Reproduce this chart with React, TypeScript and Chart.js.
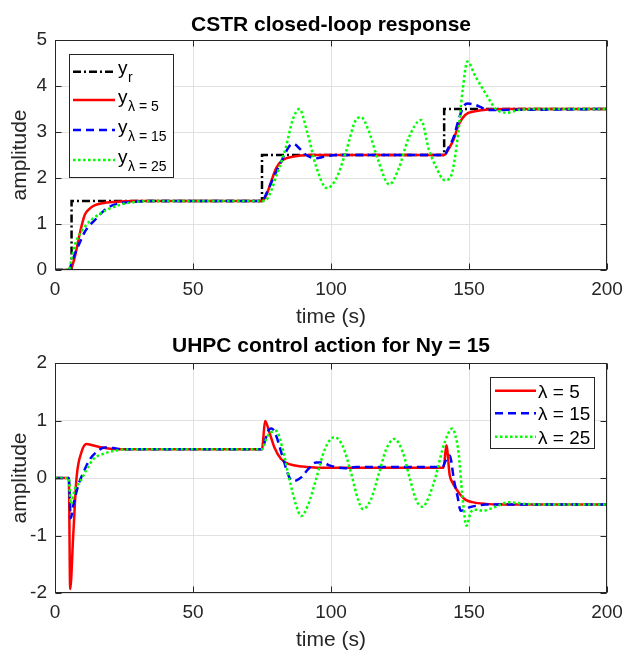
import React, { useEffect, useRef } from "react";
import { Chart, registerables } from "chart.js";

Chart.register(...registerables);

const FONT = "'Liberation Sans', Arial, Helvetica, sans-serif";

// ---------- axis ticks ----------
const xTicks = [0, 50, 100, 150, 200];
const yTicksTop = [0, 1, 2, 3, 4, 5];
const yTicksBottom = [-2, -1, 0, 1, 2];

// ---------- top chart: CSTR closed-loop response ----------
const timeRef = [0, 6, 6, 75, 75, 141, 141, 200];
const refY = [0, 0, 1.5, 1.5, 2.5, 2.5, 3.5, 3.5];

const timeY5 = [0, 5, 6, 7.2, 9, 10.8, 12.5, 14.5, 17, 21.7, 29, 75, 76.5, 77.7, 80.1, 82.5, 86, 92, 100, 141, 142.5, 144.4, 146.2, 148.6, 152.2, 157, 165, 200];
const y5 = [0, 0, 0.05, 0.29, 0.8, 1.2, 1.33, 1.41, 1.45, 1.48, 1.5, 1.5, 1.62, 1.81, 2.21, 2.39, 2.46, 2.5, 2.5, 2.5, 2.62, 2.83, 3.15, 3.37, 3.45, 3.49, 3.5, 3.5];

const timeY15 = [0, 5, 6, 7.2, 9, 10.8, 12.5, 14.5, 16.5, 18.7, 21.5, 24.7, 30, 36, 75, 76.5, 78.5, 80.5, 82, 83.5, 85, 86.5, 88.6, 91, 94.6, 98, 102, 141, 142.5, 144.4, 146.2, 148, 149.5, 152.2, 155, 157, 200];
const y15 = [0, 0, 0.15, 0.35, 0.6, 0.83, 0.97, 1.09, 1.22, 1.34, 1.42, 1.46, 1.49, 1.5, 1.5, 1.65, 1.92, 2.18, 2.36, 2.55, 2.7, 2.74, 2.64, 2.5, 2.43, 2.47, 2.5, 2.5, 2.65, 2.88, 3.26, 3.55, 3.62, 3.59, 3.52, 3.48, 3.5];

const timeY25 = [0, 5, 6, 7.2, 9, 10.8, 13, 15.7, 18.5, 21.7, 25, 29, 36, 75, 76.5, 78.5, 80.1, 82, 83.7, 86.1, 88.5, 91.5, 94.6, 98.5, 101.8, 105.4, 109, 110.9, 113.5, 117, 121.1, 124.5, 128, 132.6, 135.5, 137.9, 141.2, 143.4, 145.8, 147.7, 149.4, 152.4, 156, 159.6, 163.8, 168, 174, 200];
const y25 = [0, 0, 0.25, 0.55, 0.78, 0.94, 1.08, 1.2, 1.3, 1.38, 1.44, 1.48, 1.5, 1.5, 1.52, 1.75, 2.03, 2.35, 2.68, 3.26, 3.5, 2.97, 2.25, 1.78, 1.98, 2.57, 3.26, 3.32, 3.05, 2.4, 1.86, 2.2, 2.85, 3.26, 2.61, 2.26, 1.95, 2.03, 2.83, 3.91, 4.53, 4.2, 3.84, 3.51, 3.42, 3.48, 3.5, 3.5];

// ---------- bottom chart: UHPC control action ----------
const timeU5 = [0, 5, 5.5, 6.6, 7.8, 9.6, 11.4, 13.5, 16, 20, 25, 75, 75.3, 76.1, 77.7, 79.5, 81.9, 84.9, 89.7, 95, 140.8, 141.8, 143, 144, 145.5, 147, 148.8, 151.2, 156, 162, 200];
const u5 = [0, 0, -1.93, -1.0, 0.0, 0.45, 0.59, 0.57, 0.54, 0.51, 0.5, 0.5, 0.6, 0.99, 0.79, 0.53, 0.33, 0.24, 0.2, 0.18, 0.18, 0.57, 0.05, -0.08, -0.2, -0.3, -0.38, -0.42, -0.45, -0.46, -0.46];

const timeU15 = [0, 5, 5.7, 6.6, 8.4, 10.5, 12.7, 15, 18, 21, 25, 75, 75.5, 77.7, 78.5, 80.1, 82.5, 84.9, 86.1, 87.5, 89.2, 91.5, 94.6, 97, 99.4, 102.5, 105.4, 109, 113, 140.4, 141.5, 143, 144.6, 145.8, 147, 148.5, 150.1, 153, 156.1, 200];
const u15 = [0, 0, -0.7, -0.48, -0.13, 0.12, 0.33, 0.45, 0.53, 0.52, 0.5, 0.5, 0.56, 0.85, 0.86, 0.74, 0.36, 0.01, -0.05, -0.04, 0.01, 0.14, 0.27, 0.27, 0.22, 0.18, 0.17, 0.19, 0.19, 0.19, 0.3, 0.39, -0.05, -0.31, -0.57, -0.55, -0.51, -0.48, -0.46, -0.46];

const timeU25 = [0, 5, 5.7, 7.2, 9, 11.5, 13.9, 17.5, 22.3, 28, 75, 75.5, 77.1, 78.5, 80.1, 82.5, 84.9, 87.4, 89.2, 91.6, 94.6, 97.6, 101.2, 104.2, 107.2, 109.7, 111.5, 114.4, 117.5, 120, 122.9, 126, 128.5, 131, 133.2, 135.6, 138, 140.4, 142.5, 144, 145, 146.2, 147.6, 149.1, 150.6, 152.5, 155, 159.6, 164.5, 170, 178, 200];
const u25 = [0, 0, -0.45, -0.19, -0.07, 0.15, 0.33, 0.42, 0.48, 0.5, 0.5, 0.55, 0.74, 0.8, 0.82, 0.5, -0.02, -0.48, -0.66, -0.48, -0.02, 0.48, 0.71, 0.56, 0.1, -0.36, -0.54, -0.38, 0.1, 0.5, 0.68, 0.45, 0.0, -0.4, -0.5, -0.31, 0.04, 0.5, 0.78, 0.86, 0.75, 0.45, -0.31, -0.83, -0.6, -0.55, -0.57, -0.5, -0.42, -0.45, -0.46, -0.46];

// ---------- labels ----------
const topTitle = "CSTR closed-loop response";
const bottomTitle = "UHPC control action for Ny = 15";
const xLabel = "time (s)";
const yLabel = "amplitude";
const topLegend = [
  { main: "y", sub: "r" },
  { main: "y", sub: "λ = 5" },
  { main: "y", sub: "λ = 15" },
  { main: "y", sub: "λ = 25" },
];
const bottomLegend = [
  { main: "λ = 5", sub: "" },
  { main: "λ = 15", sub: "" },
  { main: "λ = 25", sub: "" },
];

const RED = "#ff0000";
const BLUE = "#0000ff";
const GREEN = "#00ff00";
const BLACK = "#000000";
const DASH_REF = [8, 3, 2, 3];
const DASH_BLUE = [8, 5];
const DASH_GREEN = [2.5, 2.5];

function pts(t: number[], y: number[]) {
  return t.map((x, i) => ({ x, y: y[i] }));
}

const boxPlugin = {
  id: "matlabBox",
  afterDraw(chart: any, _args: any, opts: any) {
    const { ctx, chartArea } = chart;
    const { left, right, top, bottom } = chartArea;
    const xs = chart.scales.x;
    const ys = chart.scales.y;
    ctx.save();
    ctx.strokeStyle = "#262626";
    ctx.lineWidth = 1;
    ctx.setLineDash([]);
    const L = Math.round(left) + 0.5;
    const R = Math.round(right) - 0.5;
    const T = Math.round(top) + 0.5;
    const B = Math.round(bottom) - 0.5;
    ctx.strokeRect(L, T, R - L, B - T);
    const tl = 6;
    ctx.beginPath();
    xs.ticks.forEach((t: any) => {
      const px = Math.round(xs.getPixelForValue(t.value)) + 0.5;
      ctx.moveTo(px, B);
      ctx.lineTo(px, B - tl);
      ctx.moveTo(px, T);
      ctx.lineTo(px, T + tl);
    });
    ys.ticks.forEach((t: any) => {
      const py = Math.round(ys.getPixelForValue(t.value)) + 0.5;
      ctx.moveTo(L, py);
      ctx.lineTo(L + tl, py);
      ctx.moveTo(R, py);
      ctx.lineTo(R - tl, py);
    });
    ctx.stroke();

    const lg = opts && opts.legend;
    if (lg) {
      ctx.fillStyle = "#ffffff";
      ctx.fillRect(lg.x, lg.y, lg.w, lg.h);
      ctx.strokeStyle = "#262626";
      ctx.lineWidth = 1;
      ctx.strokeRect(lg.x + 0.5, lg.y + 0.5, lg.w, lg.h);
      lg.rows.forEach((r: any) => {
        ctx.save();
        ctx.strokeStyle = r.color;
        ctx.lineWidth = 2.5;
        ctx.setLineDash(r.dash);
        ctx.beginPath();
        ctx.moveTo(lg.lx1, r.cy);
        ctx.lineTo(lg.lx2, r.cy);
        ctx.stroke();
        ctx.restore();
        ctx.fillStyle = "#000000";
        ctx.textBaseline = "alphabetic";
        ctx.textAlign = "left";
        ctx.font = `19px ${FONT}`;
        const base = r.cy + lg.baseOff;
        ctx.fillText(r.main, lg.tx, base);
        if (r.sub) {
          const w = ctx.measureText(r.main).width;
          ctx.font = `14px ${FONT}`;
          ctx.fillText(r.sub, lg.tx + w + 0.5, base + 8);
        }
      });
    }
    ctx.restore();
  },
};

function makeConfig(opts: {
  datasets: any[];
  title: string;
  yTicks: number[];
  height: number;
  plotBottom: number;
  titlePad: { top: number; bottom: number };
  xTitlePad: number;
  legend: any;
}) {
  return {
    type: "line",
    data: { datasets: opts.datasets },
    plugins: [boxPlugin],
    options: {
      animation: false,
      responsive: false,
      maintainAspectRatio: false,
      layout: { padding: { left: 0, right: 18, top: 0, bottom: 0 } },
      elements: { point: { radius: 0 } },
      plugins: {
        legend: { display: false },
        tooltip: { enabled: false },
        title: {
          display: true,
          fullSize: false,
          text: opts.title,
          color: "#000000",
          font: { family: FONT, size: 21, weight: "bold", lineHeight: 1.2 },
          padding: opts.titlePad,
        },
        matlabBox: { legend: opts.legend },
      },
      scales: {
        x: {
          type: "linear",
          min: 0,
          max: 200,
          afterBuildTicks: (s: any) => {
            s.ticks = xTicks.map((v) => ({ value: v }));
          },
          afterFit: (s: any) => {
            s.height = opts.height - opts.plotBottom;
            s.paddingLeft = 0;
            s.paddingRight = 0;
          },
          grid: { color: "#e1e1e1", lineWidth: 1, drawTicks: false },
          border: { display: false },
          ticks: {
            color: "#262626",
            font: { family: FONT, size: 19 },
            padding: 8,
            maxRotation: 0,
            autoSkip: false,
          },
          title: {
            display: true,
            text: xLabel,
            color: "#262626",
            font: { family: FONT, size: 21, lineHeight: 1.2 },
            padding: { top: 0, bottom: opts.xTitlePad },
          },
        },
        y: {
          type: "linear",
          min: opts.yTicks[0],
          max: opts.yTicks[opts.yTicks.length - 1],
          afterBuildTicks: (s: any) => {
            s.ticks = opts.yTicks.map((v) => ({ value: v }));
          },
          afterFit: (s: any) => {
            s.width = 55;
            s.paddingTop = 0;
            s.paddingBottom = 0;
          },
          grid: { color: "#e1e1e1", lineWidth: 1, drawTicks: false },
          border: { display: false },
          ticks: {
            color: "#262626",
            font: { family: FONT, size: 19 },
            padding: 8,
            autoSkip: false,
          },
          title: {
            display: true,
            text: yLabel,
            color: "#262626",
            font: { family: FONT, size: 21, lineHeight: 1.2 },
            padding: { top: 8, bottom: 0 },
          },
        },
      },
    },
  };
}

function ds(label: string, data: any[], color: string, dash: number[], order: number, smooth: boolean) {
  return {
    label,
    data,
    borderColor: color,
    backgroundColor: color,
    borderWidth: 2.5,
    borderDash: dash,
    fill: false,
    order,
    tension: 0,
    cubicInterpolationMode: smooth ? "monotone" : "default",
    pointRadius: 0,
  };
}

const TOP_H = 332;
const BOT_TOP = 332;
const BOT_H = 321;

function ChartCanvas({ config, top, height }: { config: any; top: number; height: number }) {
  const ref = useRef<HTMLCanvasElement | null>(null);
  useEffect(() => {
    if (!ref.current) return;
    const chart = new Chart(ref.current, config);
    return () => chart.destroy();
  }, [config]);
  return (
    <canvas
      ref={ref}
      width={625}
      height={height}
      style={{ position: "absolute", left: 0, top, width: 625, height, display: "block" }}
    />
  );
}

const topConfig = makeConfig({
  datasets: [
    ds("y_r", pts(timeRef, refY), BLACK, DASH_REF, 4, false),
    ds("y_λ=5", pts(timeY5, y5), RED, [], 3, true),
    ds("y_λ=15", pts(timeY15, y15), BLUE, DASH_BLUE, 2, true),
    ds("y_λ=25", pts(timeY25, y25), GREEN, DASH_GREEN, 1, true),
  ],
  title: topTitle,
  yTicks: yTicksTop,
  height: TOP_H,
  plotBottom: 270,
  titlePad: { top: 12.5, bottom: 2.3 },
  xTitlePad: 2.4,
  legend: {
    x: 69,
    y: 54,
    w: 104,
    h: 123,
    lx1: 73,
    lx2: 115,
    tx: 118,
    baseOff: 2.5,
    rows: [
      { ...topLegend[0], color: BLACK, dash: DASH_REF, cy: 71.7 },
      { ...topLegend[1], color: RED, dash: [], cy: 100 },
      { ...topLegend[2], color: BLUE, dash: DASH_BLUE, cy: 130 },
      { ...topLegend[3], color: GREEN, dash: DASH_GREEN, cy: 160 },
    ],
  },
});

const bottomConfig = makeConfig({
  datasets: [
    ds("λ = 5", pts(timeU5, u5), RED, [], 3, true),
    ds("λ = 15", pts(timeU15, u15), BLUE, DASH_BLUE, 2, true),
    ds("λ = 25", pts(timeU25, u25), GREEN, DASH_GREEN, 1, true),
  ],
  title: bottomTitle,
  yTicks: yTicksBottom,
  height: BOT_H,
  plotBottom: 261,
  titlePad: { top: 1.4, bottom: 4.4 },
  xTitlePad: 0.4,
  legend: {
    x: 490,
    y: 45,
    w: 104,
    h: 71,
    lx1: 495,
    lx2: 536,
    tx: 538,
    baseOff: 7,
    rows: [
      { ...bottomLegend[0], color: RED, dash: [], cy: 58.7 },
      { ...bottomLegend[1], color: BLUE, dash: DASH_BLUE, cy: 81.3 },
      { ...bottomLegend[2], color: GREEN, dash: DASH_GREEN, cy: 104.7 },
    ],
  },
});

export default function App() {
  return (
    <div style={{ position: "fixed", left: 0, top: 0, width: 625, height: 653, background: "#ffffff" }}>
      <ChartCanvas config={topConfig} top={0} height={TOP_H} />
      <ChartCanvas config={bottomConfig} top={BOT_TOP} height={BOT_H} />
    </div>
  );
}
